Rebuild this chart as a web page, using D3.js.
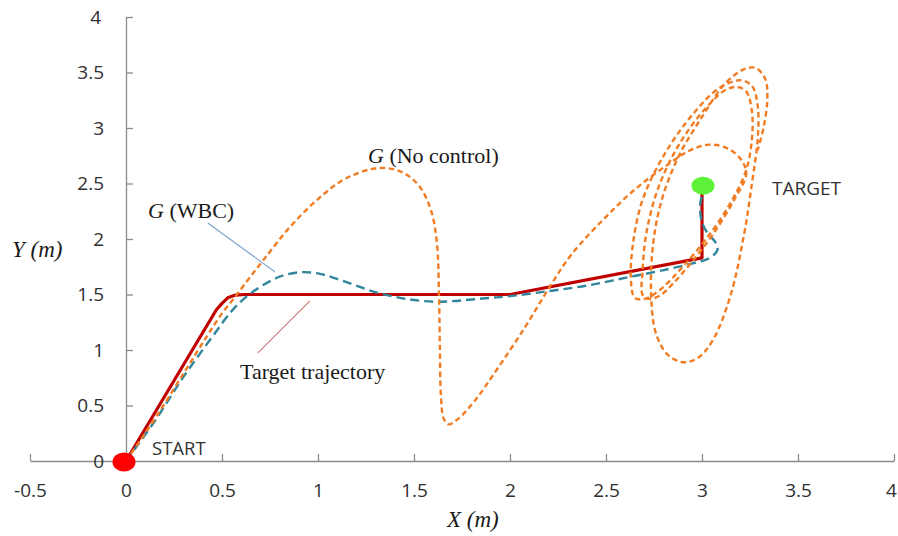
<!DOCTYPE html>
<html>
<head>
<meta charset="utf-8">
<script src="https://cdn.jsdelivr.net/npm/d3@7"></script>
<style>
body { margin: 0; background: #fff; }
</style>
</head>
<body>
<div id="chart"></div>
<script>
// axis ticks
var xTicks = [-0.5, 0, 0.5, 1, 1.5, 2, 2.5, 3, 3.5, 4];
var yTicks = [0, 0.5, 1, 1.5, 2, 2.5, 3, 3.5, 4];

// target trajectory (red)
var targetPath = [[0,0],[0.47,1.36],[0.5,1.42],[0.53,1.47],[0.57,1.495],[0.62,1.5],[2.0,1.5],[3.0,1.83],[3.0,2.42]];

// G (WBC), blue dashed
var wbcPath = [[0,0],[0.15,0.36],[0.3,0.76],[0.45,1.12],[0.55,1.35],[0.62,1.47],[0.7,1.57],[0.8,1.66],
	[0.9,1.7],[1.0,1.69],[1.1,1.64],[1.2,1.58],[1.3,1.52],[1.4,1.48],[1.5,1.45],[1.6,1.435],[1.7,1.44],
	[1.8,1.455],[1.9,1.47],[2.0,1.485],[2.2,1.53],[2.4,1.58],[2.6,1.65],[2.8,1.72],[2.95,1.78],[3.04,1.83],
	[3.08,1.9],[3.07,1.97],[3.03,2.05],[3.0,2.15],[2.99,2.3],[3.0,2.4]];

// G (No control), orange dashed
var noCtrlPath = [[0,0],[0.15,0.38],[0.3,0.79],[0.42,1.12],[0.5,1.33],[0.56,1.46],[0.63,1.62],[0.72,1.82],
	[0.85,2.1],[1.0,2.36],[1.15,2.55],[1.32,2.64],[1.44,2.6],[1.53,2.47],[1.59,2.25],[1.62,1.95],[1.63,1.5],
	[1.635,1.0],[1.64,0.6],[1.655,0.38],[1.68,0.33],[1.73,0.38],[1.82,0.55],[1.93,0.82],[2.08,1.21],[2.2,1.55],
	[2.32,1.86],[2.5,2.2],[2.66,2.46],[2.83,2.68],[2.94,2.8],[3.04,2.85],[3.14,2.81],[3.21,2.7],[3.23,2.58],
	[3.17,2.36],[3.06,2.05],[2.95,1.8],[2.85,1.6],[2.78,1.49],[2.72,1.46],
	[2.69,1.5],[2.69,1.7],[2.71,2.05],[2.77,2.45],[2.88,2.85],[3.02,3.18],[3.12,3.34],[3.18,3.37],[3.23,3.33],
	[3.26,3.15],[3.26,2.9],[3.23,2.62],
	[3.15,2.33],[3.03,2.02],[2.9,1.75],[2.78,1.54],[2.7,1.46],[2.65,1.47],
	[2.63,1.62],[2.64,1.95],[2.69,2.35],[2.8,2.75],[2.95,3.12],[3.09,3.36],[3.2,3.43],[3.26,3.38],[3.29,3.2],[3.29,2.9],
	[3.26,2.5],[3.22,2.05],[3.15,1.5],[3.06,1.1],[2.98,0.93],[2.9,0.89],[2.82,0.96],[2.76,1.15],[2.735,1.5],
	[2.745,1.95],[2.79,2.35],[2.88,2.75],[3.0,3.1],[3.12,3.4],[3.22,3.53],[3.28,3.54],[3.33,3.44],[3.34,3.25],
	[3.32,3.0],[3.29,2.8]];

var startPoint = [0, 0];
var targetPoint = [3.0, 2.48];

var width = 898, height = 536;

var svg = d3.select("#chart")
	.append("svg")
	.attr("width", width)
	.attr("height", height);

var x = d3.scaleLinear().domain([-0.5, 4]).range([30, 894]);
var y = d3.scaleLinear().domain([0, 4]).range([461, 17]);

// axes
svg.append("g")
	.attr("transform", "translate(0," + y(0) + ")")
	.call(d3.axisBottom(x).tickValues(xTicks).tickSizeInner(-7).tickSizeOuter(0).tickPadding(23)
		.tickFormat(function(d){ return String(d); }));
svg.append("g")
	.attr("transform", "translate(" + x(0) + ",0)")
	.call(d3.axisLeft(y).tickValues(yTicks).tickSizeInner(-7).tickSizeOuter(0).tickPadding(22)
		.tickFormat(function(d){ return String(d); }));

svg.selectAll(".domain, .tick line").attr("stroke", "#8c8c8c").attr("stroke-width", 1.3);
svg.selectAll(".tick text")
	.style("font-family", "'Open Sans', sans-serif")
	.style("font-size", "19px")
	.attr("fill", "#303030");
// last x label sits at the window edge
svg.selectAll(".tick text").filter(function(d){ return d === 4; }).attr("dx", -3);

var line = d3.line().x(function(d){ return x(d[0]); }).y(function(d){ return y(d[1]); });
var curvy = d3.line().x(function(d){ return x(d[0]); }).y(function(d){ return y(d[1]); }).curve(d3.curveCatmullRom.alpha(0.5));

// leader lines for labels
svg.append("line")
	.attr("x1", x(0.426)).attr("y1", y(2.144))
	.attr("x2", x(0.775)).attr("y2", y(1.705))
	.attr("stroke", "#7fa3d0").attr("stroke-width", 1.2);
svg.append("line")
	.attr("x1", x(0.686)).attr("y1", y(0.973))
	.attr("x2", x(0.957)).attr("y2", y(1.441))
	.attr("stroke", "#d98a8a").attr("stroke-width", 1.2);

// curves
svg.append("path").datum(targetPath)
	.attr("d", line)
	.attr("fill", "none")
	.attr("stroke", "#c00000")
	.attr("stroke-width", 3.2)
	.attr("stroke-linejoin", "round");

svg.append("path").datum(wbcPath)
	.attr("d", curvy)
	.attr("fill", "none")
	.attr("stroke", "#31859c")
	.attr("stroke-width", 2.4)
	.attr("stroke-dasharray", "9,5");

svg.append("path").datum(noCtrlPath)
	.attr("d", curvy)
	.attr("fill", "none")
	.attr("stroke", "#f07c24")
	.attr("stroke-width", 2.4)
	.attr("stroke-dasharray", "5.5,3.5");

// start / target markers
svg.append("ellipse")
	.attr("cx", x(startPoint[0]) - 2).attr("cy", y(startPoint[1]) + 1)
	.attr("rx", 11.5).attr("ry", 9.5)
	.attr("fill", "#ff0000");
svg.append("ellipse")
	.attr("cx", x(targetPoint[0]) + 1).attr("cy", y(targetPoint[1]))
	.attr("rx", 11.5).attr("ry", 9)
	.attr("fill", "#5ef23a");

// text labels
var serif = "'Liberation Serif', 'Times New Roman', serif";
var sans = "'Open Sans', sans-serif";

var t1 = svg.append("text").attr("x", 148).attr("y", 218)
	.style("font-family", serif).style("font-size", "22px").attr("fill", "#1a1a1a");
t1.append("tspan").style("font-style", "italic").text("G");
t1.append("tspan").text(" (WBC)");

var t2 = svg.append("text").attr("x", 368).attr("y", 163)
	.style("font-family", serif).style("font-size", "22px").attr("fill", "#1a1a1a");
t2.append("tspan").style("font-style", "italic").text("G");
t2.append("tspan").text(" (No control)");

svg.append("text").attr("x", 240).attr("y", 379)
	.style("font-family", serif).style("font-size", "22px").attr("fill", "#1a1a1a")
	.text("Target trajectory");

svg.append("text").attr("x", 772).attr("y", 195)
	.style("font-family", sans).style("font-size", "19px").attr("fill", "#333")
	.text("TARGET");
svg.append("text").attr("x", 152).attr("y", 455)
	.style("font-family", sans).style("font-size", "18.5px").attr("fill", "#333")
	.text("START");

svg.append("text").attr("x", 12).attr("y", 257)
	.style("font-family", serif).style("font-size", "23px").style("font-style", "italic").attr("fill", "#1a1a1a")
	.text("Y (m)");
svg.append("text").attr("x", 447).attr("y", 527)
	.style("font-family", serif).style("font-size", "23px").style("font-style", "italic").attr("fill", "#1a1a1a")
	.text("X (m)");
</script>
</body>
</html>
